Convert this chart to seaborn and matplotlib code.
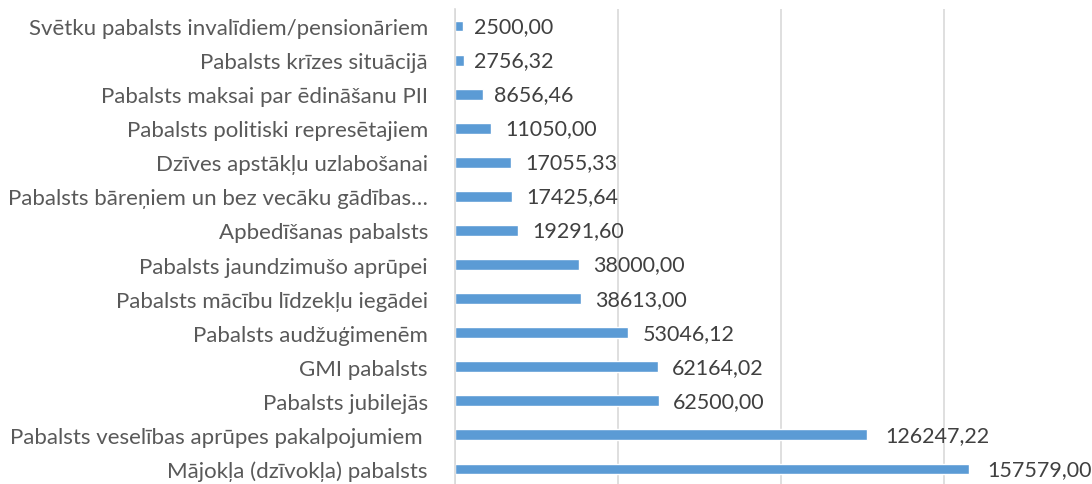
import matplotlib
matplotlib.use('Agg')
import matplotlib.pyplot as plt
import seaborn as sns
import pandas as pd

# pabalstu veidi, no augšas uz leju
categories = [
    'Svētku pabalsts invalīdiem/pensionāriem',
    'Pabalsts krīzes situācijā',
    'Pabalsts maksai par ēdināšanu PII',
    'Pabalsts politiski represētajiem',
    'Dzīves apstākļu uzlabošanai',
    'Pabalsts bāreņiem un bez vecāku gādības…',
    'Apbedīšanas pabalsts',
    'Pabalsts jaundzimušo aprūpei',
    'Pabalsts mācību līdzekļu iegādei',
    'Pabalsts audžuģimenēm',
    'GMI pabalsts',
    'Pabalsts jubilejās',
    'Pabalsts veselības aprūpes pakalpojumiem ',
    'Mājokļa (dzīvokļa) pabalsts',
]
amounts = [2500.00, 2756.32, 8656.46, 11050.00, 17055.33, 17425.64, 19291.60,
           38000.00, 38613.00, 53046.12, 62164.02, 62500.00, 126247.22, 157579.00]

df = pd.DataFrame({'veids': categories, 'summa': amounts})

sns.set_style('white')
plt.rcParams['font.family'] = ['Lato', 'DejaVu Sans']

fig = plt.figure(figsize=(10.92, 4.85), dpi=100)
ax = fig.add_axes([455 / 1092, -2 / 485, 637 / 1092, 477 / 485])

sns.barplot(data=df, y='veids', x='summa', orient='h', color='#5B9BD5',
            saturation=1, width=0.32, ax=ax)

ax.set_xlim(0, 195400)
ax.set_ylim(13.5, -0.5)
ax.set_xticks([0, 50000, 100000, 150000])
ax.xaxis.grid(True, color='#D9D9D9', linewidth=1.2)
ax.set_axisbelow(True)
ax.tick_params(axis='x', bottom=False, labelbottom=False)
ax.tick_params(axis='y', left=False, pad=16, labelsize=16, labelcolor='#595959')
ax.set_xlabel('')
ax.set_ylabel('')
for s in ['top', 'right', 'bottom']:
    ax.spines[s].set_visible(False)
ax.spines['left'].set_color('#D9D9D9')
ax.spines['left'].set_linewidth(1.2)

for i, v in enumerate(amounts):
    txt = f'{v:.2f}'.replace('.', ',')
    ax.annotate(txt, (v, i), xytext=(3 * (len(txt) - 4.5), 0), textcoords='offset points',
                va='center', ha='left', fontsize=15.5, color='#404040')

fig.savefig('out.png', dpi=100)
